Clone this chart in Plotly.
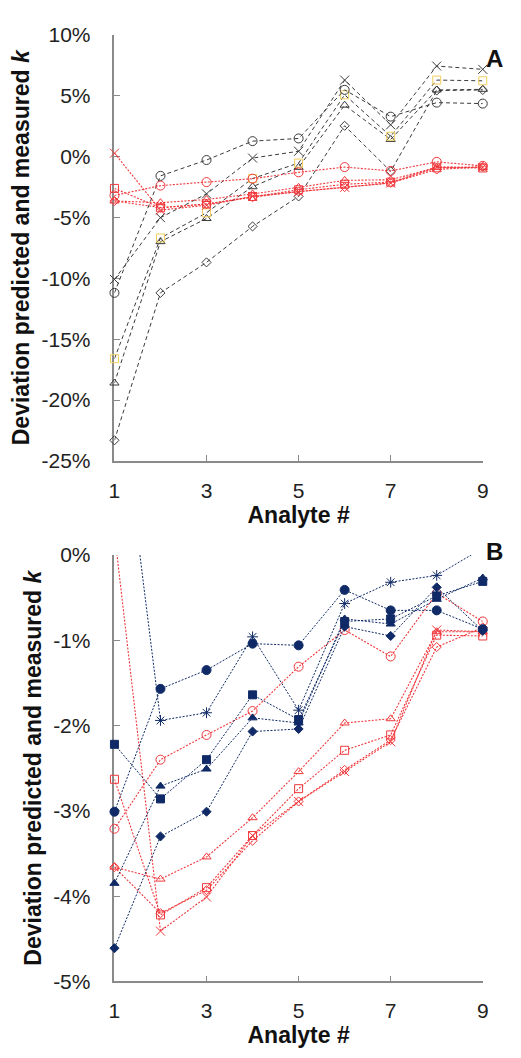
import plotly.graph_objects as go

# ---- data (percent deviation between predicted and measured k) ----
analyte = [1, 2, 3, 4, 5, 6, 7, 8, 9]

# panel A, black/gold series
a_circle = [-11.2, -1.6, -0.3, 1.25, 1.47, 5.46, 3.26, 4.41, 4.33]
a_star = [-10.1, -5.03, -3.08, -0.14, 0.42, 6.26, 2.59, 7.41, 7.14]
a_square = [-16.6, -6.7, -4.63, -1.82, -0.55, 5.05, 1.65, 6.26, 6.2]
a_triangle = [-18.6, -7.0, -5.1, -2.49, -0.9, 4.2, 1.39, 5.45, 5.5]
a_diamond = [-23.3, -11.2, -8.7, -5.75, -3.29, 2.51, -1.23, 5.4, 5.45]

# red series (shown in both panels)
r_circle = [-3.21, -2.40, -2.11, -1.83, -1.31, -0.88, -1.19, -0.45, -0.78]
r_square = [-2.63, -4.22, -3.90, -3.29, -2.74, -2.29, -2.11, -0.94, -0.95]
r_triangle = [-3.66, -3.80, -3.54, -3.08, -2.54, -1.97, -1.92, -0.90, -0.90]
r_diamond = [-3.66, -4.20, -3.93, -3.35, -2.89, -2.52, -2.17, -1.08, -0.85]
r_cross = [0.26, -4.41, -4.01, -3.29, -2.89, -2.54, -2.19, -0.88, -0.90]

# panel B, navy series
n_circle = [-3.01, -1.57, -1.35, -1.04, -1.06, -0.41, -0.65, -0.65, -0.87]
n_square = [-2.22, -2.86, -2.40, -1.64, -1.93, -0.78, -0.75, -0.48, -0.31]
n_triangle = [-3.85, -2.71, -2.51, -1.91, -1.97, -0.75, -0.81, -0.52, -0.27]
n_diamond = [-4.61, -3.30, -3.01, -2.07, -2.04, -0.84, -0.95, -0.38, -0.89]
n_star = [2.4, -1.94, -1.85, -0.96, -1.82, -0.57, -0.32, -0.24, 0.08]

x_ticks = [1, 3, 5, 7, 9]
a_ticks = [10, 5, 0, -5, -10, -15, -20, -25]
a_ticktext = ["10%", "5%", "0%", "-5%", "-10%", "-15%", "-20%", "-25%"]
b_ticks = [0, -1, -2, -3, -4, -5]
b_ticktext = ["0%", "-1%", "-2%", "-3%", "-4%", "-5%"]

# ---- styling ----
W, H = 521, 1058
FONT = "Arial, Liberation Sans, sans-serif"
BLACK = "#3a3a3a"
GOLD = "#f2cf5a"
RED = "#f0383c"
NAVY = "#0f2a66"
AXIS = "#8a8a8a"

fig = go.Figure()


def add(xa, ya, y, symbol, color, dash, size=8, lw=1.0, clip_top=None, line_color=None):
    opac = 1
    if clip_top is not None:
        opac = [1 if v <= clip_top else 0 for v in y]
    fig.add_trace(go.Scatter(
        x=analyte, y=y, xaxis=xa, yaxis=ya, mode="lines+markers",
        line=dict(color=line_color or color, width=lw, dash=dash),
        marker=dict(symbol=symbol, size=size, color=color, opacity=opac,
                    line=dict(color=color, width=1)),
        cliponaxis=False, showlegend=False, hoverinfo="skip"))


BD = "4px,3px"
RD = "2px,1.5px"

# panel A
add("x", "y", a_diamond, "diamond-open", BLACK, BD, 7)
add("x", "y", a_triangle, "triangle-up-open", BLACK, BD, 8)
add("x", "y", a_square, "square-open", GOLD, BD, 8, line_color=BLACK)
add("x", "y", a_star, "x-thin-open", BLACK, BD, 9)
add("x", "y", a_circle, "circle-open", BLACK, BD, 9)
red_series = [(r_diamond, "diamond-open", 7), (r_triangle, "triangle-up-open", 8),
              (r_square, "square-open", 8), (r_cross, "x-thin-open", 9),
              (r_circle, "circle-open", 9)]
for ys, sym, sz in red_series:
    add("x", "y", ys, sym, RED, RD, sz, 1.1)

# panel B
for ys, sym, sz in red_series:
    add("x2", "y2", ys, sym, RED, RD, sz, 1.1, clip_top=0)
for ys, sym, sz in [(n_diamond, "diamond", 7), (n_triangle, "triangle-up", 8),
                    (n_square, "square", 8), (n_star, "asterisk-open", 9),
                    (n_circle, "circle", 9)]:
    add("x2", "y2", ys, sym, NAVY, RD, sz, 1.0, clip_top=0)

xdom = [111 / W, 488 / W]
ydomA = [1 - 459 / H, 1 - 23 / H]
ydomB = [1 - 991 / H, 1 - 555 / H]

tickfont = dict(family=FONT, size=21, color="#222")
titlefont = dict(family=FONT, size=23, color="#111")
ytitle = "<b>Deviation predicted and measured <i>k</i></b>"

common_x = dict(range=[1, 9], tickvals=x_ticks, ticks="inside", ticklen=6,
                tickcolor=AXIS, showline=True, linecolor=AXIS, linewidth=1.5,
                showgrid=False, zeroline=False, tickfont=tickfont,
                ticklabelstandoff=10, layer="below traces",
                title=dict(text="<b>Analyte #</b>", font=titlefont, standoff=4))
common_y = dict(ticks="inside", ticklen=6, tickcolor=AXIS, showline=True,
                linecolor=AXIS, linewidth=1.5, showgrid=False, zeroline=False,
                tickfont=tickfont, ticklabelstandoff=18, layer="below traces",
                title=dict(text=ytitle, font=dict(family=FONT, size=23, color="#111"),
                           standoff=5))

fig.update_layout(
    width=W, height=H, margin=dict(l=0, r=0, t=0, b=0),
    paper_bgcolor="white", plot_bgcolor="white",
    xaxis=dict(domain=xdom, anchor="y", **common_x),
    yaxis=dict(domain=ydomA, anchor="x", range=[-25, 10], tickvals=a_ticks,
               ticktext=a_ticktext, **common_y),
    xaxis2=dict(domain=xdom, anchor="y2", **common_x),
    yaxis2=dict(domain=ydomB, anchor="x2", range=[-5, 0], tickvals=b_ticks,
                ticktext=b_ticktext, **common_y),
    annotations=[
        dict(text="<b>A</b>", x=511 / W, y=1 - 32 / H, xref="paper", yref="paper",
             showarrow=False, font=dict(family=FONT, size=24, color="#111")),
        dict(text="<b>B</b>", x=511 / W, y=1 - 551 / H, xref="paper", yref="paper",
             showarrow=False, font=dict(family=FONT, size=24, color="#111")),
    ],
)

fig.write_html("out.html")
